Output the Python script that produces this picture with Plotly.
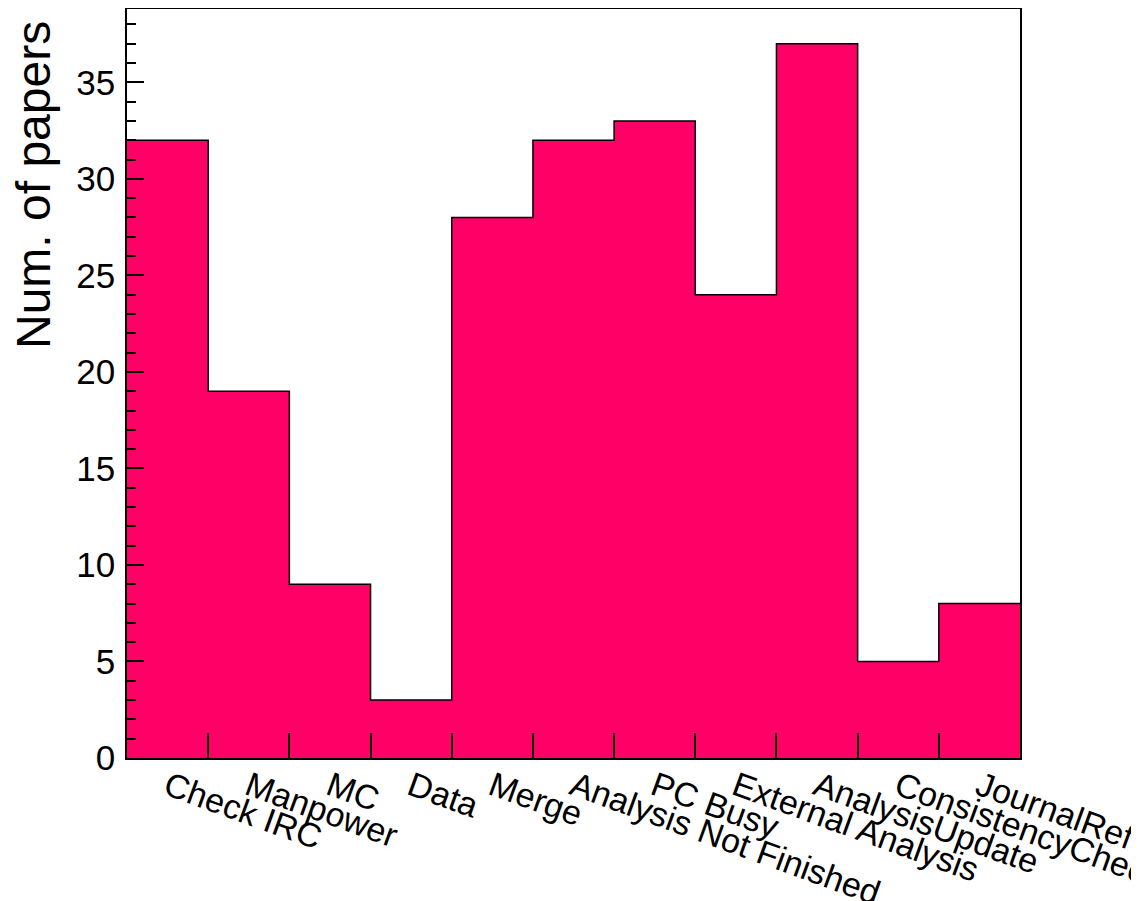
import plotly.graph_objects as go

categories = ["Check IRC", "Manpower", "MC", "Data", "Merge", "Analysis Not Finished",
              "PC Busy", "External Analysis", "AnalysisUpdate", "ConsistencyCheck",
              "JournalReferee"]
counts = [32, 19, 9, 3, 28, 32, 33, 24, 37, 5, 8]
y_ticks = [0, 5, 10, 15, 20, 25, 30, 35]
y_title = "Num. of papers"

FILL = "#ff0066"
FONT = "Liberation Sans, Arial, Helvetica, sans-serif"

n = len(categories)
centers = [i + 0.5 for i in range(n)]
edges = list(range(n + 1))

# page body has an 8px margin; plot area in the picture spans x 127..1020, y 9..758
OFF = 8
PL, PR, PT, PB = 127, 1020, 9, 758

fig = go.Figure()
fig.add_trace(go.Bar(x=centers, y=counts, width=1.0,
                     marker=dict(color=FILL, line=dict(width=0)),
                     showlegend=False, hoverinfo="skip"))
fig.add_trace(go.Scatter(x=edges, y=counts + [counts[-1]], mode="lines",
                         line=dict(color="black", width=1.5, shape="hv"),
                         showlegend=False, hoverinfo="skip"))

fig.update_layout(
    width=1139, height=901,
    margin=dict(l=PL - OFF, r=1139 - (PR - OFF), t=PT - OFF, b=901 - (PB - OFF),
                autoexpand=False),
    paper_bgcolor="white", plot_bgcolor="white",
    bargap=0,
    font=dict(family=FONT, size=34, color="black"),
    xaxis=dict(range=[0, n], tickmode="array", tickvals=centers, ticktext=categories,
               tickangle=20, ticks="inside", ticklen=0, tickcolor="rgba(0,0,0,0)",
               ticklabeloverflow="allow", automargin=False, ticklabelstandoff=-6,
               minor=dict(tickmode="array", tickvals=edges[1:-1], ticks="inside",
                          ticklen=25, tickwidth=1.5, tickcolor="black"),
               showgrid=False, zeroline=False, showline=True, mirror=True,
               linecolor="black", linewidth=1.5,
               tickfont=dict(size=34, family=FONT, color="black")),
    yaxis=dict(range=[0, 38.8], tickmode="array", tickvals=y_ticks,
               ticks="inside", ticklen=17, tickwidth=1.5, tickcolor="black",
               ticklabelstandoff=3, automargin=False,
               minor=dict(dtick=1, ticks="inside", ticklen=9, tickwidth=1.5,
                          tickcolor="black"),
               showgrid=False, zeroline=False, showline=True, mirror=True,
               linecolor="black", linewidth=1.5,
               tickfont=dict(size=35, family=FONT, color="black")),
)

fig.add_annotation(text=y_title, textangle=-90, xref="paper", yref="paper",
                   x=(33 - PL) / (PR - PL), y=(PB - 19) / (PB - PT),
                   xanchor="center", yanchor="top", showarrow=False,
                   font=dict(size=48, family=FONT, color="black"))

fig.write_html("out.html")
